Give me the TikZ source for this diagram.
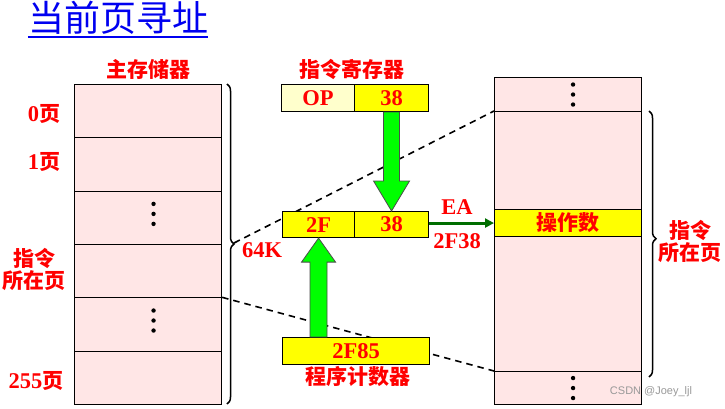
\documentclass[tikz,border=0pt]{standalone}
\usepackage{fontspec}
\setmainfont{Liberation Serif}
\newfontfamily\cjk{Noto Sans CJK SC}
\newfontfamily\wmfont{Liberation Sans}
\usetikzlibrary{decorations.pathreplacing,calc,arrows.meta}
\definecolor{pinkfill}{RGB}{255,230,230}
\definecolor{lightyel}{RGB}{255,255,204}
\definecolor{yel}{RGB}{255,255,0}
\definecolor{grn}{RGB}{0,255,0}
\definecolor{dkgrn}{RGB}{0,110,0}
\definecolor{titleblue}{RGB}{0,0,240}
\newcommand{\zh}[1]{{\cjk\bfseries\fontsize{21}{23}\selectfont #1}}
\begin{document}
\begin{tikzpicture}[x=1pt,y=-1pt,
  cell/.style={draw=black,line width=1.1pt,fill=pinkfill,minimum width=147pt,inner sep=0pt,anchor=north west},
  reg/.style={draw=black,line width=1.1pt,fill=yel,inner sep=0pt,anchor=north west,minimum height=27pt,
    font=\fontsize{22.5}{22.5}\selectfont\bfseries,text=red},
  lbl/.style={text=red,font=\fontsize{22.5}{23}\selectfont\bfseries,inner sep=0pt,align=center},
  dashline/.style={dash pattern=on 6.5pt off 5pt,line width=1.6pt,black},
  bigarrow/.style={fill=grn,draw=black!70,line width=0.8pt},
  bracedec/.style={decorate,decoration={brace,amplitude=7pt},line width=1.5pt}
]
\fill[white] (0,0) rectangle (725,409);
\useasboundingbox (0,0) rectangle (725,409);

% title
\node[inner sep=0pt,text=titleblue,font=\fontsize{36}{36}\selectfont\cjk] (title) at (118,18) {当前页寻址};
\draw[titleblue,line width=2pt] (title.south west)++(0,2) coordinate (ul1) -- (title.south east|-ul1);

% left memory
\node[cell,minimum height=53.33pt] (L1) at (74,84) {};
\node[cell,minimum height=53.33pt] (L2) at (74,137.33) {};
\node[cell,minimum height=53.33pt] (L3) at (74,190.67) {};
\node[cell,minimum height=53.33pt] (L4) at (74,244) {};
\node[cell,minimum height=53.33pt] (L5) at (74,297.33) {};
\node[cell,minimum height=53.33pt] (L6) at (74,350.67) {};
\foreach \c in {L3,L5}{
  \foreach \d in {-10,0,10} \fill ($(\c.center)+(5.5,\d-4)$) circle (2.2pt);
}
\node[lbl] (mm) at (148,69) {\zh{主存储器}};
\node[lbl] (p0) at (44,114) {0\zh{页}};
\node[lbl] (p1) at (44,162) {1\zh{页}};
\node[lbl] (pz) at (34,269) {\zh{指令}\\[-1pt]\zh{所在页}};
\node[lbl] (p255) at (36,381) {255\zh{页}};

% left brace
\draw[bracedec] (227,84) -- (227,404);
\coordinate (btip) at (234,243);
\node[lbl] (k64) at (262,250) {64K};

% right memory
\node[cell,minimum height=34pt] (R1) at (494,77) {};
\node[cell,minimum height=98pt] (R2) at (494,111) {};
\node[cell,minimum height=27pt,fill=yel,text=red] (R3) at (494,209) {\zh{操作数}};
\node[cell,minimum height=135pt] (R4) at (494,236) {};
\node[cell,minimum height=33pt] (R5) at (494,371) {};
\foreach \c in {R1,R5}{
  \foreach \d in {-10,0,10} \fill ($(\c.center)+(5,\d)$) circle (2.2pt);
}
\draw[bracedec,decoration={brace,amplitude=7pt,aspect=0.48}] (649,111) -- (649,377);
\node[lbl] (rz) at (690,241) {\zh{指令}\\[-1pt]\zh{所在页}};

% dashed lines
\draw[dashline] (btip) -- (R2.north west);
\draw[dashline] (L5.north east) -- (R5.north west);

% instruction register
\node[lbl] (irl) at (352,69) {\zh{指令寄存器}};
\node[reg,fill=lightyel,minimum width=73pt] (OP) at (281,84) {OP};
\node[reg,minimum width=74pt] (I38) at (354,84) {38};

% middle register
\node[reg,minimum width=72pt,minimum height=26pt] (M2F) at (282,211) {2F};
\node[reg,minimum width=74pt,minimum height=26pt] (M38) at (354,211) {38};

% program counter
\node[reg,minimum width=147pt] (PC) at (282,337) {2F85};
\node[lbl] (pcl) at (358,376) {\zh{程序计数器}};

% green arrows
\draw[bigarrow] let \p1=(I38.south), \p2=(M38.north) in
  (\x1-8pt,\y1) -- (\x1-8pt,\y2+30pt) -- (\x1-18pt,\y2+30pt) -- (\x1,\y2)
  -- (\x1+18pt,\y2+30pt) -- (\x1+8pt,\y2+30pt) -- (\x1+8pt,\y1) -- cycle;
\draw[bigarrow] let \p1=(M2F.south), \p2=(PC.north) in
  (\x1-8.5pt,\y2) -- (\x1-8.5pt,\y1-24pt) -- (\x1-17pt,\y1-24pt) -- (\x1,\y1)
  -- (\x1+17pt,\y1-24pt) -- (\x1+8.5pt,\y1-24pt) -- (\x1+8.5pt,\y2) -- cycle;

% EA arrow
\draw[dkgrn,line width=3pt,-{Triangle[length=9pt,width=9pt]}] (M38.east|-R3.west) -- (R3.west);
\node[lbl] (ea) at (457,207) {EA};
\node[lbl] (ea2) at (457,241) {2F38};

% watermark
\node[inner sep=0pt,text=black!40,font=\fontsize{11}{11}\selectfont\wmfont] (wm) at (651,392) {CSDN @Joey\_ljl};
\end{tikzpicture}
\end{document}
